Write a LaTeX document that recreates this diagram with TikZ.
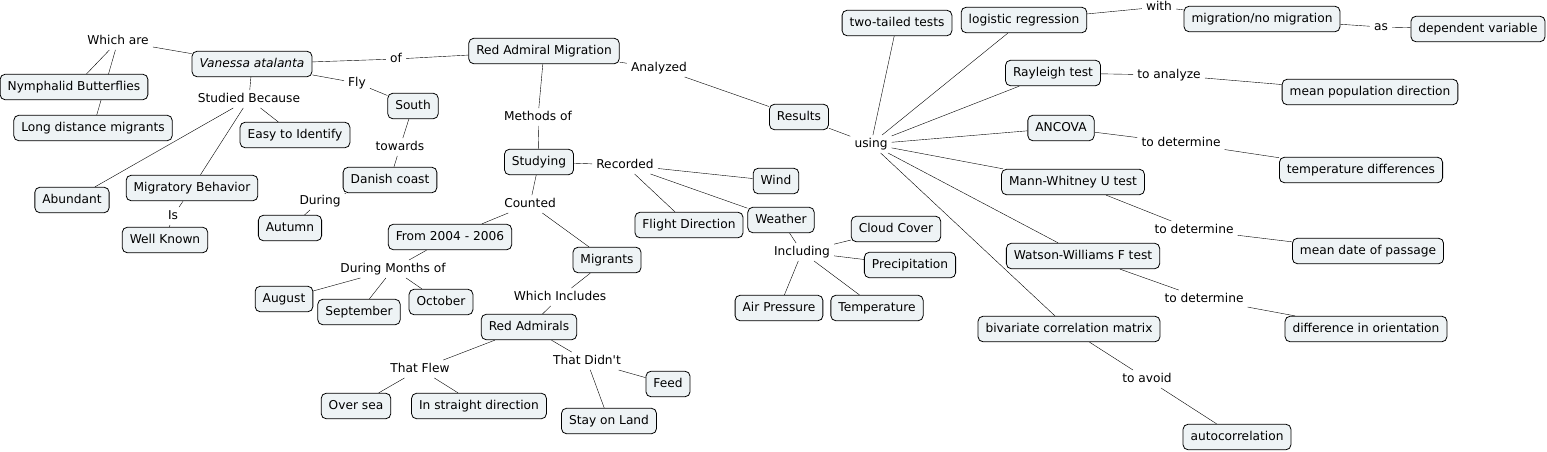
\documentclass[tikz,border=0pt]{standalone}
\usepackage{fontspec}
\setmainfont{DejaVu Sans}[Ligatures=TeXOff]
\usepackage{xcolor}
\usepackage{tikz}
\usetikzlibrary{backgrounds}
\definecolor{conceptfill}{HTML}{EEF3F5}

\begin{document}
\begin{tikzpicture}[x=1pt, y=-1pt,
    concept/.style={draw, rounded corners=5pt, fill=conceptfill, line width=0.8pt,
        inner xsep=7.5pt, minimum height=25.5pt, text height=9pt, text depth=2.5pt,
        font=\fontsize{12.2}{14}\selectfont},
    linkword/.style={inner xsep=4pt, inner ysep=3pt, text height=9pt, text depth=2.5pt,
        font=\fontsize{12.2}{14}\selectfont},
    conn/.style={line width=0.8pt, black!85}]
        \useasboundingbox (0, 0) rectangle (1547, 451);

        \node[concept] (va) at (252, 64) {\textit{Vanessa atalanta}};
        \node[concept] (ram) at (544, 51) {Red Admiral Migration};
        \node[concept] (nymph) at (74, 87) {Nymphalid Butterflies};
        \node[concept] (ldm) at (93, 128) {Long distance migrants};
        \node[concept] (easy) at (295, 135) {Easy to Identify};
        \node[concept] (south) at (413, 106) {South};
        \node[concept] (abund) at (72, 200) {Abundant};
        \node[concept] (migbeh) at (192, 188) {Migratory Behavior};
        \node[concept] (wellknown) at (165, 240) {Well Known};
        \node[concept] (autumn) at (290, 228) {Autumn};
        \node[concept] (danish) at (390, 180) {Danish coast};
        \node[concept] (study) at (539, 162) {Studying};
        \node[concept] (years) at (450, 237) {From 2004 - 2006};
        \node[concept] (migrants) at (607, 260) {Migrants};
        \node[concept] (aug) at (284, 299) {August};
        \node[concept] (sep) at (359, 312) {September};
        \node[concept] (oct) at (441, 302) {October};
        \node[concept] (redadm) at (529, 327) {Red Admirals};
        \node[concept] (oversea) at (356, 406) {Over sea};
        \node[concept] (straight) at (479, 406) {In straight direction};
        \node[concept] (feed) at (668, 384) {Feed};
        \node[concept] (stay) at (609, 421) {Stay on Land};
        \node[concept] (flightdir) at (689, 225) {Flight Direction};
        \node[concept] (wind) at (776, 181) {Wind};
        \node[concept] (weather) at (781, 220) {Weather};
        \node[concept] (cloud) at (896, 229) {Cloud Cover};
        \node[concept] (precip) at (910, 265) {Precipitation};
        \node[concept] (airp) at (779, 308) {Air Pressure};
        \node[concept] (temp) at (877, 308) {Temperature};
        \node[concept] (results) at (799, 117) {Results};
        \node[concept] (twotail) at (897, 23) {two-tailed tests};
        \node[concept] (logreg) at (1024, 20) {logistic regression};
        \node[concept] (migno) at (1262, 19) {migration/no migration};
        \node[concept] (depvar) at (1478, 29) {dependent variable};
        \node[concept] (rayleigh) at (1053, 73) {Rayleigh test};
        \node[concept] (meanpop) at (1370, 92) {mean population direction};
        \node[concept] (ancova) at (1061, 128) {ANCOVA};
        \node[concept] (tempdiff) at (1361, 170) {temperature differences};
        \node[concept] (mannw) at (1073, 182) {Mann-Whitney U test};
        \node[concept] (meandate) at (1368, 251) {mean date of passage};
        \node[concept] (watson) at (1083, 256) {Watson-Williams F test};
        \node[concept] (difforient) at (1366, 329) {difference in orientation};
        \node[concept] (bivar) at (1069, 329) {bivariate correlation matrix};
        \node[concept] (autocorr) at (1237, 437) {autocorrelation};

        \node[linkword] (lwhich) at (118, 41) {Which are};
        \node[linkword] (lof) at (396, 59) {of};
        \node[linkword] (lfly) at (357, 83) {Fly};
        \node[linkword] (lstudied) at (249, 99) {Studied Because};
        \node[linkword] (ltowards) at (400, 147) {towards};
        \node[linkword] (lduring) at (320, 201) {During};
        \node[linkword] (lis) at (173, 216) {Is};
        \node[linkword] (lmethods) at (538, 117) {Methods of};
        \node[linkword] (lanalyzed) at (659, 68) {Analyzed};
        \node[linkword] (lrecorded) at (625, 165) {Recorded};
        \node[linkword] (lcounted) at (530, 204) {Counted};
        \node[linkword] (lmonths) at (393, 269) {During Months of};
        \node[linkword] (lincludes) at (560, 297) {Which Includes};
        \node[linkword] (lflew) at (420, 369) {That Flew};
        \node[linkword] (ldidnt) at (587, 361) {That Didn't};
        \node[linkword] (lincluding) at (802, 252) {Including};
        \node[linkword] (lusing) at (871, 144) {using};
        \node[linkword] (lwith) at (1159, 7) {with};
        \node[linkword] (las) at (1381, 27) {as};
        \node[linkword] (lanalyze) at (1169, 75) {to analyze};
        \node[linkword] (ldeta) at (1181, 143) {to determine};
        \node[linkword] (ldetb) at (1194, 230) {to determine};
        \node[linkword] (ldetc) at (1204, 299) {to determine};
        \node[linkword] (lavoid) at (1147, 379) {to avoid};

        \begin{scope}[on background layer, conn]
            \draw (va) -- (lwhich);
            \foreach \t in {nymph, ldm} \draw (lwhich) -- (\t);
            \draw (va) -- (lof) -- (ram);
            \draw (va) -- (lfly) -- (south);
            \draw (va) -- (lstudied);
            \foreach \t in {abund, migbeh, easy} \draw (lstudied) -- (\t);
            \draw (migbeh) -- (lis) -- (wellknown);
            \draw (south) -- (ltowards) -- (danish);
            \draw (danish) -- (lduring) -- (autumn);
            \draw (ram) -- (lmethods) -- (study);
            \draw (ram) -- (lanalyzed) -- (results);
            \draw (study) -- (lrecorded);
            \foreach \t in {flightdir, wind, weather} \draw (lrecorded) -- (\t);
            \draw (study) -- (lcounted);
            \foreach \t in {years, migrants} \draw (lcounted) -- (\t);
            \draw (years) -- (lmonths);
            \foreach \t in {aug, sep, oct} \draw (lmonths) -- (\t);
            \draw (migrants) -- (lincludes) -- (redadm);
            \draw (redadm) -- (lflew);
            \foreach \t in {oversea, straight} \draw (lflew) -- (\t);
            \draw (redadm) -- (ldidnt);
            \foreach \t in {feed, stay} \draw (ldidnt) -- (\t);
            \draw (weather) -- (lincluding);
            \foreach \t in {cloud, precip, airp, temp} \draw (lincluding) -- (\t);
            \draw (results) -- (lusing);
            \foreach \t in {twotail, logreg, rayleigh, ancova, mannw, watson, bivar}
                \draw (lusing) -- (\t);
            \draw (logreg) -- (lwith) -- (migno);
            \draw (migno) -- (las) -- (depvar);
            \draw (rayleigh) -- (lanalyze) -- (meanpop);
            \draw (ancova) -- (ldeta) -- (tempdiff);
            \draw (mannw) -- (ldetb) -- (meandate);
            \draw (watson) -- (ldetc) -- (difforient);
            \draw (bivar) -- (lavoid) -- (autocorr);
        \end{scope}
    \end{tikzpicture}
\end{document}
